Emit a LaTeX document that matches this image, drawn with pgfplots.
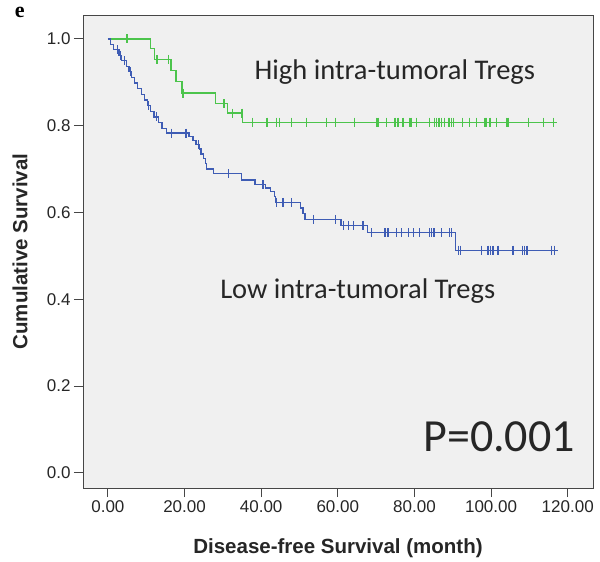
\documentclass[border=0pt]{standalone}
\usepackage{pgfplots}
\pgfplotsset{compat=1.18}
\usepackage{fontspec}
\setmainfont{Liberation Sans}
\newfontfamily\calib{Carlito}
\newfontfamily\tnr{Liberation Serif}
\definecolor{kmgreen}{RGB}{76,196,76}
\definecolor{kmblue}{RGB}{62,92,180}
\definecolor{panel}{RGB}{240,240,240}
\definecolor{frame}{RGB}{70,70,70}
\begin{document}
\begin{tikzpicture}
\path[use as bounding box] (-83pt,-74pt) rectangle (517pt,488pt);
\begin{axis}[
  at={(0pt,0pt)}, anchor=south west,
  scale only axis, width=510pt, height=473pt,
  xmin=-6.5, xmax=126.6, ymin=-0.035, ymax=1.055,
  axis background/.style={fill=panel},
  axis line style={frame, line width=0.9pt},
  xtick={0,20,...,120}, ytick={0,0.2,...,1.0},
  xtick pos=bottom, ytick pos=left,
  tick align=outside, major tick length=9pt,
  tick style={frame, line width=0.9pt},
  xticklabel style={/pgf/number format/.cd, fixed, fixed zerofill, precision=2},
  yticklabel style={/pgf/number format/.cd, fixed, fixed zerofill, precision=1},
  /pgf/number format/assume math mode=true,
  ticklabel style={font=\fontsize{17}{20}\selectfont, text=black!85},
  xlabel={\textbf{Disease-free Survival (month)}},
  ylabel={\textbf{Cumulative Survival}},
  label style={font=\fontsize{20.5}{24}\selectfont, text=black!85},
  xlabel style={at={(axis description cs:0.5,0)}, anchor=center, yshift=-60pt},
  ylabel style={at={(axis description cs:0,0.5)}, anchor=center, yshift=63pt},
  clip=false,
]
% high intra-tumoral Tregs
\addplot[const plot, kmgreen, line width=1.3pt] coordinates {
(0,1.0) (11.2,0.977) (12.2,0.953) (16.5,0.927) (17.8,0.901) (19.3,0.875)
(28.0,0.851) (31.3,0.829) (35.2,0.808) (117.1,0.808)};
\addplot[only marks, mark=|, mark size=4.5pt, kmgreen, mark options={line width=1.2pt}] coordinates {
(5.0,1.0) (12.8,0.953) (15.9,0.953) (19.6,0.875) (30.3,0.851) (32.6,0.829)
(35.0,0.829) (37.8,0.808) (41.5,0.808) (44.0,0.808) (44.8,0.808) (48.0,0.808)
(51.9,0.808) (57.1,0.808) (59.5,0.808) (64.4,0.808) (70.1,0.808) (70.5,0.808)
(72.7,0.808) (74.9,0.808) (75.7,0.808) (77.0,0.808) (78.8,0.808) (79.1,0.808)
(80.5,0.808) (84.0,0.808) (85.3,0.808) (85.8,0.808) (86.4,0.808) (87.1,0.808)
(87.9,0.808) (88.8,0.808) (89.2,0.808) (89.7,0.808) (90.1,0.808) (92.5,0.808)
(94.4,0.808) (96.2,0.808) (98.4,0.808) (98.8,0.808) (99.7,0.808) (101.4,0.808)
(104.0,0.808) (104.4,0.808) (109.7,0.808) (113.6,0.808) (116.2,0.808)};
% low intra-tumoral Tregs
\addplot[const plot, kmblue, line width=1.3pt] coordinates {
(0,1.0) (0.6,0.987) (1.4,0.975) (2.9,0.962) (3.6,0.950) (4.9,0.937) (5.5,0.924)
(6.1,0.911) (6.9,0.898) (7.8,0.885) (8.7,0.872) (9.6,0.859) (10.3,0.846)
(11.2,0.833) (12.0,0.820) (13.2,0.807) (14.1,0.794) (15.3,0.783)
(21.2,0.775) (22.2,0.766) (23.0,0.756) (23.9,0.746) (24.3,0.735) (24.9,0.724)
(25.4,0.712) (25.8,0.700) (27.5,0.689) (34.9,0.675) (38.4,0.664) (41.2,0.656)
(42.5,0.648) (43.4,0.636) (43.8,0.623) (50.3,0.610) (50.9,0.597) (51.4,0.584)
(60.8,0.570) (67.8,0.553) (90.8,0.513) (117.5,0.513)};
\addplot[only marks, mark=|, mark size=4.5pt, kmblue, mark options={line width=1.2pt}] coordinates {
(2.5,0.975) (3.2,0.962) (4.4,0.950) (5.8,0.924) (10.6,0.846) (12.7,0.820)
(16.6,0.783) (20.4,0.783) (23.6,0.756) (31.4,0.689) (40.5,0.664) (44.0,0.623)
(45.7,0.623) (47.9,0.623) (53.6,0.584) (59.5,0.584) (61.4,0.570) (62.7,0.570)
(64.0,0.570) (66.6,0.570) (68.8,0.553) (72.3,0.553) (73.1,0.553) (75.3,0.553)
(76.6,0.553) (78.4,0.553) (79.7,0.553) (81.4,0.553) (84.0,0.553) (84.5,0.553)
(84.9,0.553) (85.3,0.553) (87.1,0.553) (89.2,0.553) (89.7,0.553) (91.4,0.513)
(92.0,0.513) (97.5,0.513) (99.2,0.513) (99.8,0.513) (100.5,0.513) (101.8,0.513)
(105.7,0.513) (108.2,0.513) (108.8,0.513) (109.4,0.513) (115.8,0.513) (116.6,0.513)};
\node[font=\calib\fontsize{28.5}{32}\selectfont, text=black!85] at (axis cs:74.9,0.923) {High intra-tumoral Tregs};
\node[font=\calib\fontsize{28.5}{32}\selectfont, text=black!85] at (axis cs:65.2,0.419) {Low intra-tumoral Tregs};
\node[font=\calib\fontsize{46}{50}\selectfont, text=black!85] at (axis cs:102.1,0.083) {P=0.001};
\node[font=\tnr\bfseries\fontsize{22}{24}\selectfont] at (rel axis cs:-0.124,1.006) {e};
\end{axis}
\end{tikzpicture}
\end{document}
